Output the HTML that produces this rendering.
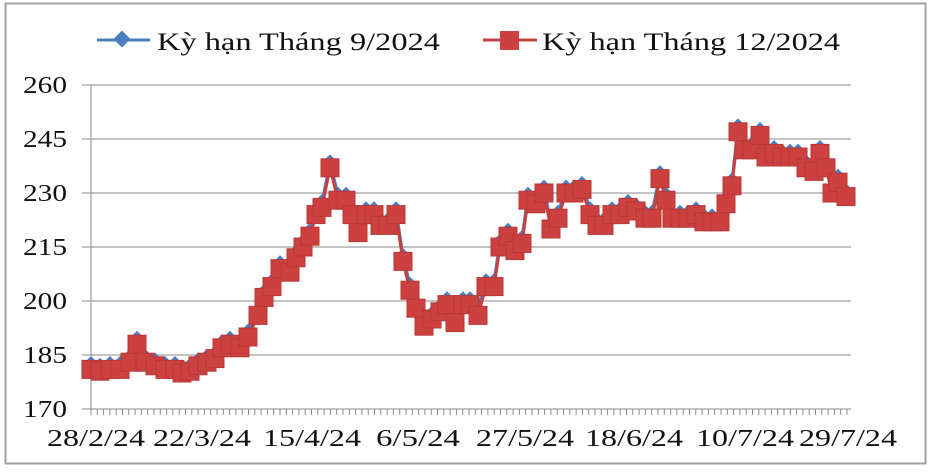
<!DOCTYPE html>
<html><head><meta charset="utf-8"><style>
body{margin:0;background:#fff}
svg text{font-family:"Liberation Serif",serif;fill:#111}
</style></head><body>
<svg id="s" width="932" height="469" xmlns="http://www.w3.org/2000/svg">
<rect x="5.5" y="3.5" width="920" height="460" fill="#fff" stroke="#a0a0a0" stroke-width="2"/>
<g id="grid"></g>
<g id="series"></g>
<line x1="97" y1="40" x2="150" y2="40" stroke="#4a7ebf" stroke-width="3"/>
<rect x="116" y="33" width="12" height="12" fill="#4a7ebf" transform="rotate(45 122 39)"/>
<text x="157" y="50" font-size="25" textLength="283" lengthAdjust="spacingAndGlyphs">Kỳ hạn Tháng 9/2024</text>
<line x1="483" y1="40" x2="537" y2="40" stroke="#c94040" stroke-width="3"/>
<rect x="500" y="31" width="19" height="19" fill="#cc4040"/>
<text x="542" y="50" font-size="25" textLength="298" lengthAdjust="spacingAndGlyphs">Kỳ hạn Tháng 12/2024</text>
</svg>
<script>
var NS="http://www.w3.org/2000/svg",s=document.getElementById('s'),g=document.getElementById('grid'),se=document.getElementById('series');
function el(t,a,p){var e=document.createElementNS(NS,t);for(var k in a)e.setAttribute(k,a[k]);(p||g).appendChild(e);return e;}
function Y(v){return 85+(260-v)*3.6;}
[260,245,230,215,200,185].forEach(function(v){el('line',{x1:82,x2:851,y1:Y(v),y2:Y(v),stroke:'#8a8a8a','stroke-width':1});});
[260,245,230,215,200,185,170].forEach(function(v){var t=el('text',{x:23,y:Y(v)+8,'font-size':24,textLength:44,lengthAdjust:'spacingAndGlyphs'});t.textContent=v;});
el('line',{x1:91,x2:91,y1:85,y2:409,stroke:'#8a8a8a'});
el('line',{x1:82,x2:851,y1:409,y2:409,stroke:'#8a8a8a'});
for(var x=91;x<=852;x+=6.3)el('line',{x1:x,x2:x,y1:409,y2:415,stroke:'#8a8a8a'});
[['28/2/24',96],['22/3/24',202],['15/4/24',312],['6/5/24',418],['27/5/24',525],['18/6/24',634],['10/7/24',745],['29/7/24',848]].forEach(function(d){var w=d[0].length==6?84:98;var t=el('text',{x:d[1]-w/2,y:446,'font-size':24,textLength:w,lengthAdjust:'spacingAndGlyphs'});t.textContent=d[0];});
var R=[[91,181],[100,180.5],[110,181],[120,181],[130,183],[137,188],[145,183],[155,182],[165,181],[175,181],[182,180],[190,180.5],[198,182],[207,183],[215,184],[222,187],[230,188],[240,187],[248,190],[258,196],[264,201],[272,204],[280,209],[290,208],[296,212],[303,215],[310,218],[316,224],[322,226],[330,237],[338,228],[346,228],[352,224],[358,219],[366,224],[374,224],[380,221],[388,221],[396,224],[403,211],[410,203],[416,198],[424,193],[432,195],[440,197],[447,199],[455,194],[463,199],[470,199],[478,196],[486,204],[494,204],[500,215],[508,218],[515,214],[522,216],[528,228],[536,227],[544,230],[551,220],[558,223],[566,230],[574,230],[582,231],[590,224],[597,221],[604,221],[612,224],[620,224],[628,226],[636,225],[645,223],[652,223],[660,234],[666,228],[672,223],[680,223],[688,223],[696,224],[704,222],[712,222],[720,222],[726,227],[732,232],[738,247],[744,242],[752,242],[760,246],[766,240],[774,241],[782,240],[790,240],[798,240],[806,237],[814,236],[820,241],[826,237],[832,230],[838,233],[846,229]];
var bp=R.map(function(p){return p[0]+','+Y(p[1]+1.5);}).join(' ');
el('polyline',{points:bp,fill:'none',stroke:'#4a7ebf','stroke-width':3},se);
R.forEach(function(p){var x=p[0],y=Y(p[1]+1.5);el('polygon',{points:(x)+','+(y-8)+' '+(x+8)+','+y+' '+x+','+(y+8)+' '+(x-8)+','+y,fill:'#4a7ebf'},se);});
var rp=R.map(function(p){return p[0]+','+Y(p[1]);}).join(' ');
el('polyline',{points:rp,fill:'none',stroke:'#c94040','stroke-width':3},se);
R.forEach(function(p){el('rect',{x:p[0]-9,y:Y(p[1])-9,width:18,height:18,fill:'#cc4040',stroke:'#b83838','stroke-width':1},se);});
</script>
</body></html>
